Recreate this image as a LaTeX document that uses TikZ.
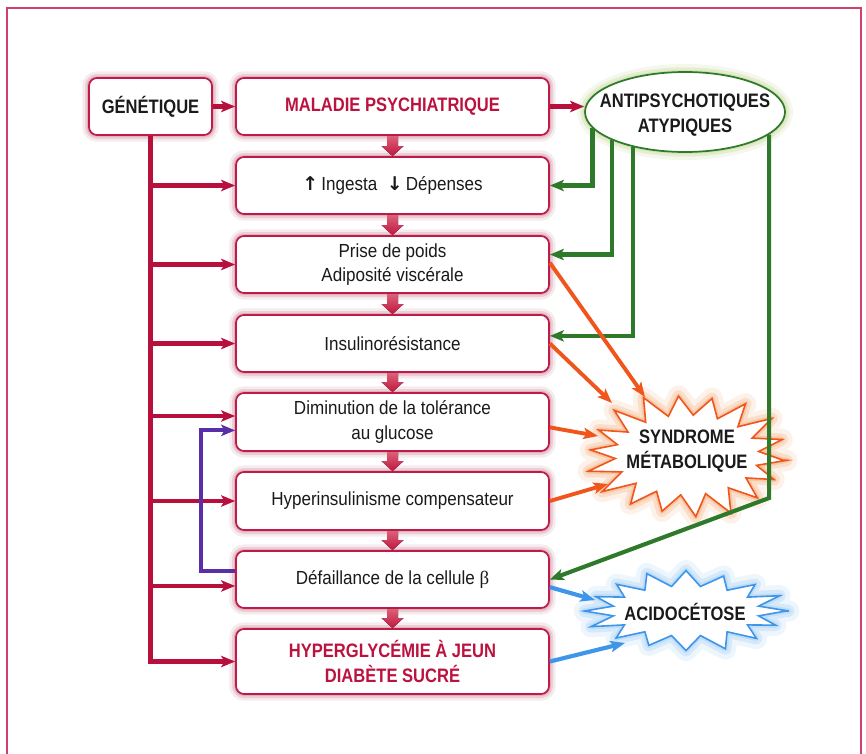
\documentclass[tikz,border=0pt]{standalone}
\usepackage{fontspec}
\setmainfont{Liberation Sans}[FakeStretch=0.9]
\newfontfamily\bnarrow{Liberation Sans}[FakeStretch=0.85]
\newfontfamily\arrfont{DejaVu Sans}
\newfontfamily\grkfont{Liberation Serif}
\usetikzlibrary{arrows.meta,calc,shapes.geometric}
\definecolor{cred}{HTML}{C21A48}
\definecolor{lred}{HTML}{B8103C}
\definecolor{tred}{HTML}{BC1240}
\definecolor{glowred}{HTML}{B0405A}
\definecolor{framecol}{HTML}{D0406A}
\definecolor{cgreen}{HTML}{2F7A2A}
\definecolor{gglow}{HTML}{B8D080}
\definecolor{corange}{HTML}{F0561C}
\definecolor{oglow}{HTML}{F39A5A}
\definecolor{cblue}{HTML}{3F95EA}
\definecolor{bglow}{HTML}{8EC5F5}
\definecolor{cpurple}{HTML}{5A2EA6}
\definecolor{txt}{HTML}{1A1A1A}
\definecolor{arrlight}{HTML}{DC6078}
\definecolor{arrdark}{HTML}{C01640}
\newcommand\fR{\fontsize{14.2}{18.5}\selectfont}
\newcommand\fB{\bnarrow\bfseries\fontsize{14.6}{18.5}\selectfont}
\newcommand\dnarr[2]{%
  \fill[top color=arrlight, bottom color=arrdark]
    ($(#1.south)+(-5.5,0)$) -- ($(#2.north)+(-5.5,-10)$) -- ($(#2.north)+(-11,-10)$)
    -- (#2.north) -- ($(#2.north)+(11,-10)$) -- ($(#2.north)+(5.5,-10)$)
    -- ($(#1.south)+(5.5,0)$) -- cycle;}
\begin{document}
\begin{tikzpicture}[x=0.75pt,y=-0.75pt,
  boxglow/.style={preaction={draw=glowred, line width=10pt, opacity=0.10},
                  preaction={draw=glowred, line width=6pt, opacity=0.16},
                  preaction={draw=glowred, line width=3pt, opacity=0.2}},
  mainbox/.style={boxglow, draw=cred, line width=1.3pt, fill=white, rounded corners=6pt,
     minimum width=234.75pt, minimum height=42.75pt, inner sep=0pt, align=center,
     font=\fR, text=txt},
  redline/.style={draw=lred, line width=3.1pt, -{Stealth[length=10.5pt,width=8.5pt,inset=2.5pt]}},
  greenline/.style={draw=cgreen, line width=3.1pt, -{Stealth[length=10.5pt,width=8.5pt,inset=2.5pt]}},
  orangeline/.style={draw=corange, line width=2.9pt, -{Stealth[length=11pt,width=8.5pt,inset=2.5pt]}},
  blueline/.style={draw=cblue, line width=3.1pt, -{Stealth[length=11pt,width=8.5pt,inset=2.5pt]}},
  purpleline/.style={draw=cpurple, line width=3.1pt, -{Stealth[length=10.5pt,width=8.5pt,inset=2.5pt]}},
]
\useasboundingbox (0,0) rectangle (866,753);
\fill[white] (0,0) rectangle (866,753);
\draw[framecol, line width=1.3pt] (7,8) rectangle (861,790);

% boxes
\node[mainbox, minimum width=92.25pt, font=\fB] (gen) at (150.5,106.5) {GÉNÉTIQUE};
\node[mainbox, font=\fB, text=tred] (mal) at (392.5,106.5) {MALADIE PSYCHIATRIQUE};
\node[mainbox] (ing) at (392.5,185.5) {{\arrfont\bfseries ↑}\,Ingesta\enspace{\arrfont\bfseries ↓}\,Dépenses};
\node[mainbox] (pds) at (392.5,264.5) {Prise de poids\\Adiposité viscérale};
\node[mainbox] (ins) at (392.5,343.5) {Insulinorésistance};
\node[mainbox, minimum height=43.5pt] (dim) at (392.5,422) {Diminution de la tolérance\\au glucose};
\node[mainbox, minimum height=43.5pt] (hyp) at (392.5,501) {Hyperinsulinisme compensateur};
\node[mainbox] (def) at (392.5,579.5) {Défaillance de la cellule {\grkfont β}};
\node[mainbox, minimum height=48.75pt, font=\fB, text=tred] (hgl) at (392.5,661.5) {HYPERGLYCÉMIE À JEUN\\DIABÈTE SUCRÉ};

% ellipse
\node[ellipse, draw=cgreen, line width=1.3pt, fill=white, minimum width=150pt, minimum height=60pt,
  inner sep=0pt,
  preaction={draw=gglow, line width=12pt, opacity=0.15},
  preaction={draw=gglow, line width=7pt, opacity=0.25},
  preaction={draw=gglow, line width=3pt, opacity=0.3}] (ant) at (685,112) {};
\node[font=\fB, text=txt, align=center] (antt) at ($(ant.center)+(0,3)$) {ANTIPSYCHOTIQUES\\ATYPIQUES};

% starbursts
\draw[draw=corange, line width=1.2pt, fill=white, line join=miter,
  preaction={draw=oglow, line width=16pt, opacity=0.12, line join=round},
  preaction={draw=oglow, line width=9pt, opacity=0.22, line join=round},
  preaction={draw=oglow, line width=4pt, opacity=0.3, line join=round}]
  plot[samples=37, domain=0:36, variable=\k]
  ({687+ifthenelse(mod(round(\k),2)==0,100*(1+0.04*sin(\k*137)),72)*cos(\k*10+5)},
   {455+ifthenelse(mod(round(\k),2)==0,61*(1+0.05*sin(\k*137)),40)*sin(\k*10+5)}) -- cycle;
\draw[draw=cblue, line width=1.2pt, fill=white, line join=miter,
  preaction={draw=bglow, line width=16pt, opacity=0.15, line join=round},
  preaction={draw=bglow, line width=9pt, opacity=0.25, line join=round},
  preaction={draw=bglow, line width=4pt, opacity=0.3, line join=round}]
  plot[samples=33, domain=0:32, variable=\k]
  ({686+ifthenelse(mod(round(\k),2)==0,100*(1+0.03*sin(\k*137)),74)*cos(\k*11.25)},
   {611+ifthenelse(mod(round(\k),2)==0,39*(1+0.05*sin(\k*137)),25)*sin(\k*11.25)}) -- cycle;
\node[font=\fB, text=txt, align=center] (syn) at (687,451) {SYNDROME\\MÉTABOLIQUE};
\node[font=\fB, text=txt] (aci) at (685,612) {ACIDOCÉTOSE};

% down arrows
\dnarr{mal}{ing}
\dnarr{ing}{pds}
\dnarr{pds}{ins}
\dnarr{ins}{dim}
\dnarr{dim}{hyp}
\dnarr{hyp}{def}
\dnarr{def}{hgl}

% anchor points
\coordinate (dimr) at ($(dim.north west)!0.4!(dim.south west)$);
\coordinate (dimp) at ($(dim.north west)!0.64!(dim.south west)$);
\coordinate (defr) at ($(def.north west)!0.61!(def.south west)$);
\coordinate (defp) at ($(def.north west)!0.35!(def.south west)$);
\coordinate (pdsg) at ($(pds.north east)!0.33!(pds.south east)$);
\coordinate (insg) at ($(ins.north east)!0.37!(ins.south east)$);
\coordinate (pdso) at ($(pds.north east)!0.47!(pds.south east)$);
\coordinate (dimo) at ($(dim.north east)!0.59!(dim.south east)$);
\coordinate (defb) at ($(def.north east)!0.63!(def.south east)$);
\coordinate (gc) at (769,498);

% red connectors
\draw[redline] (gen.east) -- (mal.west);
\draw[redline] (mal.east) -- (mal.east -| ant.west);
\draw[redline] (gen.south) |- (hgl.west);
\foreach \t in {ing,pds,ins,hyp} \draw[redline] (gen.south |- \t.west) -- (\t.west);
\draw[redline] (gen.south |- dimr) -- (dimr);
\draw[redline] (gen.south |- defr) -- (defr);

% purple
\draw[purpleline] (defp) -- ++(-34,0) |- (dimp);

% green
\draw[greenline] (ant.190.9) |- (ing.east);
\draw[greenline] (ant.201.7) |- (pdsg);
\draw[greenline] (ant.214) |- (insg);
\draw[greenline] (ant.345.5) -- (ant.345.5 |- gc) -- (def.east);

% orange
\draw[orangeline] (pdso) -- ($(syn)+(-42,-54)$);
\draw[orangeline] (ins.east) -- ($(syn)+(-75,-48)$);
\draw[orangeline] (dimo) -- ($(syn)+(-89,-15)$);
\draw[orangeline] (hyp.east) -- ($(syn)+(-79,33)$);

% blue
\draw[blueline] (defb) -- ($(aci)+(-90,-12)$);
\draw[blueline] (hgl.east) -- ($(aci)+(-60,31)$);
\end{tikzpicture}
\end{document}
